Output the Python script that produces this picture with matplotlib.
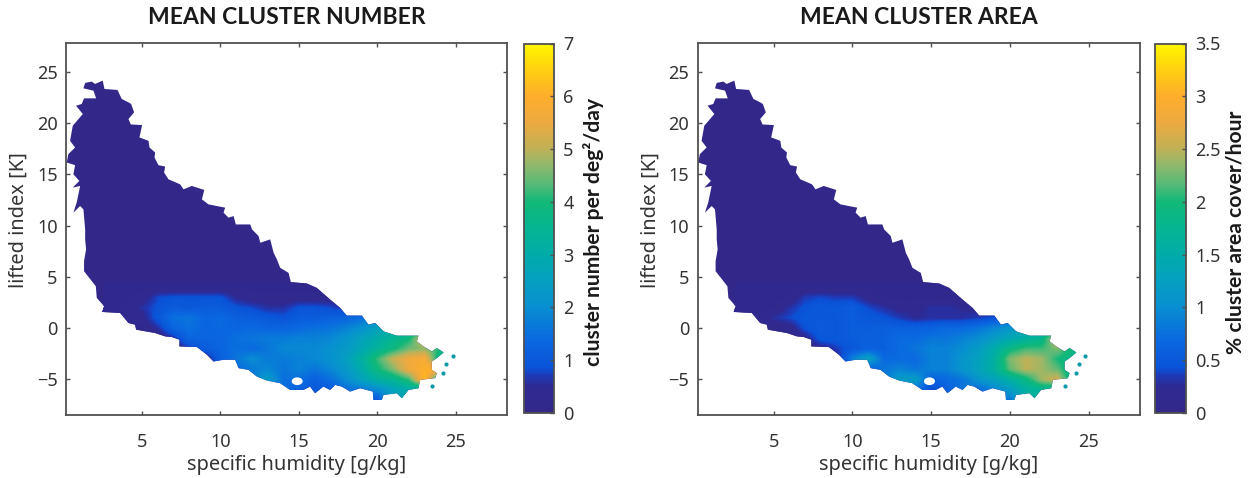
# coding = utf-8

import numpy as np
import matplotlib
matplotlib.use('Agg')
import matplotlib.pyplot as plt
from matplotlib.colors import LinearSegmentedColormap
from matplotlib.patches import Ellipse, Polygon

outline_q = [1.28, 1.39, 1.81, 2.02, 2.51, 2.62, 3.45, 3.72, 4.15, 4.32, 4.51, 4.15, 4.30, 5.02, 4.85, 5.43,
             5.49, 5.85, 5.81, 6.06, 6.49, 6.42, 6.70, 7.44, 7.66, 8.19, 8.98, 8.83, 9.25, 10.31, 10.21, 10.53,
             10.85, 10.99, 11.91, 12.02, 12.44, 12.55, 13.18, 13.40, 13.61, 13.82, 14.35, 14.50, 15.51, 16.15,
             17.0, 17.64, 18.06, 19.02, 19.44, 19.87, 20.4, 21.25, 22.63, 22.53, 22.95, 23.48, 23.8, 24.23, 23.8,
             23.48, 23.48, 23.8, 23.69, 22.74, 22.63, 21.99, 21.57, 21.25, 20.4, 20.29, 19.76, 19.72, 18.91,
             18.27, 17.74, 17.32, 17.0, 16.57, 16.04, 15.72, 15.3, 14.45, 13.81, 12.97, 12.33, 11.8, 11.17, 10.95,
             10.21, 9.57, 9.15, 8.51, 7.4, 7.4, 6.91, 6.49, 5.85, 4.64, 4.57, 4.15, 3.62, 2.45, 2.6, 2.13, 2.07,
             1.32, 1.32, 1.45, 1.39, 1.39, 1.28, 1.07, 0.64, 0.85, 1.07, 0.6, 1.02, 0.64, 0.75, 0.22, 0.32, 0.75,
             0.43, 0.6, 1.24, 0.81, 1.17, 1.32, 2.09, 1.92]
outline_li = [23.42, 23.95, 24.08, 23.85, 24.17, 23.36, 23.26, 22.38, 22.05, 21.89, 21.07, 20.42, 19.89, 19.83,
              18.62, 18.29, 17.64, 17.15, 16.66, 15.91, 15.78, 15.19, 14.53, 14.04, 13.55, 13.88, 13.49, 12.57,
              12.08, 11.76, 11.27, 10.78, 10.94, 10.12, 10.12, 9.64, 8.99, 8.33, 8.66, 7.35, 6.70, 5.88, 5.39,
              4.48, 4.35, 3.92, 2.78, 1.96, 1.21, 1.21, 0.33, 0.49, -0.33, -0.75, -0.75, -1.31, -1.80, -2.29,
              -1.96, -2.39, -2.94, -3.27, -4.09, -4.41, -4.9, -5.07, -5.88, -6.05, -6.86, -6.37, -6.54, -7.03,
              -7.03, -6.21, -5.88, -6.21, -5.72, -5.56, -6.05, -5.72, -6.37, -5.72, -6.05, -6.05, -5.39, -5.13,
              -4.74, -4.09, -3.92, -3.1, -3.1, -3.27, -2.61, -1.86, -1.8, -1.14, -0.88, -0.82, -0.49, -0.16, 0.33,
              0.49, 1.47, 1.57, 2.12, 2.94, 4.08, 5.55, 6.54, 7.68, 8.66, 9.64, 11.59, 11.92, 11.27, 12.25, 13.88,
              13.72, 14.37, 15.02, 15.91, 16.17, 16.99, 17.64, 18.29, 19.76, 20.91, 21.72, 21.89, 22.44, 22.44,
              23.19]

# little islands east of the main region, and the hole near q=15
island_q = [24.4, 24.2, 23.5, 24.8]
island_li = [-3.5, -4.4, -5.7, -2.7]
hole_q = 14.9
hole_li = -5.2

# grid of the coloured part: columns q = 3..25, rows li = 4..-7
number = [
    [.2, .2, .2, .2, .2, .2, .2, .2, .2, .2, .2, .2, .2, .2, .2, .2, .2, .2, .2, .2, .2, .2, .2],
    [.2, .2, .3, .8, .9, .9, .9, .9, .5, .3, .3, .3, .3, .3, .3, .2, .2, .2, .2, .2, .2, .2, .2],
    [.2, .3, .6, .9, 1.1, 1.0, 1.1, 1.1, .9, .8, .6, .6, .9, .9, .8, .6, .5, .5, .5, .5, .5, .5, .5],
    [.2, .2, .4, 1.0, 1.5, 1.6, 1.3, 1.4, 1.2, 1.1, 1.0, .9, 1.1, 1.1, 1.2, 1.3, 1.5, 1.6, 1.6, 1.6, 1.6, 1.6, 1.6],
    [.2, .2, .2, .6, 1.3, 1.5, 1.3, 1.4, 1.3, 1.4, 1.3, 1.3, 1.4, 1.5, 1.6, 1.8, 2.1, 2.6, 3.0, 3.2, 3.2, 3.2, 3.2],
    [.2, .2, .2, .2, .6, 1.3, 1.3, 1.3, 1.5, 1.6, 1.7, 1.7, 1.8, 1.8, 1.9, 2.2, 2.6, 3.0, 3.5, 3.9, 5.5, 4.2, 4.2],
    [.2, .2, .2, .2, .2, .7, 1.1, 1.3, 1.5, 1.4, 1.6, 1.9, 1.9, 1.9, 2.1, 2.3, 2.8, 3.4, 3.9, 4.5, 4.7, 4.0, 3.5],
    [.2, .2, .2, .2, .2, .2, .3, 1.2, 1.6, 2.0, 1.7, 1.7, 1.8, 1.9, 2.1, 2.5, 3.2, 4.2, 5.1, 5.6, 5.8, 3.4, 3.3],
    [.2, .2, .2, .2, .2, .2, .2, .8, 1.4, 1.7, 1.9, 1.6, 1.8, 1.6, 1.9, 2.3, 3.0, 3.9, 4.6, 5.6, 6.0, 6.0, 3.3],
    [.2, .2, .2, .2, .2, .2, .2, .8, 1.4, 1.7, 2.4, 1.5, 1.5, 1.2, 1.5, 2.0, 2.6, 3.2, 3.5, 4.2, 6.3, 3.0, 3.0],
    [.2, .2, .2, .2, .2, .2, .2, .8, 1.4, 1.7, 2.0, 1.5, 1.2, 1.0, 1.0, 1.5, 1.6, 2.0, 2.6, 3.0, 3.0, 3.0, 3.0],
    [.2, .2, .2, .2, .2, .2, .2, .8, 1.4, 1.7, 2.0, 1.5, 1.2, 1.0, 1.0, 1.5, 1.6, 1.0, 2.6, 3.0, 3.0, 3.0, 3.0],
]

area = [
    [.1, .1, .1, .1, .1, .1, .1, .1, .1, .1, .1, .1, .1, .1, .1, .1, .1, .1, .1, .1, .1, .1, .1],
    [.1, .1, .1, .1, .35, .4, .35, .35, .2, .1, .1, .1, .1, .1, .1, .1, .1, .1, .1, .1, .1, .1, .1],
    [.1, .1, .1, .3, .45, .5, .5, .55, .4, .3, .2, .2, .3, .3, .25, .2, .1, .1, .1, .1, .1, .1, .1],
    [.1, .1, .3, .4, .5, .5, .5, .55, .5, .45, .35, .25, .3, .3, .3, .35, .45, .55, .6, .7, .7, .7, .7],
    [.1, .1, .1, .15, .45, .55, .5, .55, .55, .6, .6, .6, .6, .7, .7, .8, .95, 1.1, 1.3, 1.4, 1.4, 1.4, 1.4],
    [.1, .1, .1, .1, .2, .5, .5, .55, .6, .6, .7, .7, .8, .8, .9, 1.0, 1.2, 1.4, 1.6, 1.8, 2.7, 1.9, 1.9],
    [.1, .1, .1, .1, .1, .2, .35, .5, .6, .6, .7, .8, .9, .9, 1.0, 1.2, 1.5, 1.9, 2.1, 2.1, 2.3, 1.9, 1.8],
    [.1, .1, .1, .1, .1, .1, .2, .9, 1.3, .7, .7, .7, .9, .9, 1.1, 1.3, 1.6, 2.3, 2.5, 2.4, 2.0, 1.8, 1.7],
    [.1, .1, .1, .1, .1, .1, .1, .4, .6, .8, .9, .8, .9, .9, 1.1, 1.3, 1.6, 2.2, 2.5, 2.4, 2.2, 1.7, 1.7],
    [.1, .1, .1, .1, .1, .1, .1, .4, .6, .8, 1.2, 1.2, .6, .7, .8, 1.1, 1.3, 1.6, 1.9, 2.4, 2.6, 1.7, 1.7],
    [.1, .1, .1, .1, .1, .1, .1, .4, .6, .8, 1.0, .8, .4, .6, .8, .7, .9, 1.2, 1.6, 1.7, 1.7, 1.7, 1.7],
    [.1, .1, .1, .1, .1, .1, .1, .4, .6, .8, 1.0, .8, .4, .6, .8, .7, .9, .8, 1.6, 1.7, 1.7, 1.7, 1.7],
]

number_ticks = [0, 1, 2, 3, 4, 5, 6, 7]
area_ticks = [0, 0.5, 1, 1.5, 2, 2.5, 3, 3.5]
area_ticklabels = ['0', '0.5', '1', '1.5', '2', '2.5', '3', '3.5']

# colorbar colours: navy up to about 0.09 of the range, then the parula-like ramp
cmap_stops = [(0, '#33288a'), (0.07, '#2f2a92'), (0.1, '#1e3ab8'), (0.12, '#0a52d8'), (0.2, '#0a6ae0'),
              (0.29, '#0890d0'), (0.36, '#05a0c0'), (0.43, '#00aca8'), (0.5, '#05b592'), (0.57, '#10b878'),
              (0.62, '#56ba78'), (0.68, '#9ab868'), (0.72, '#c4b055'), (0.79, '#eeaa40'), (0.86, '#fdae2b'),
              (0.93, '#ffd010'), (1, '#fff700')]
cmap = LinearSegmentedColormap.from_list('cloud', cmap_stops, N=256)

W, H = 1251, 478
EDGE = '#505050'
TEXT = '#333333'

fig = plt.figure(figsize=(W / 100, H / 100), dpi=100)


def px_axes(left, top, right, bottom):
    return fig.add_axes([left / W, 1 - bottom / H, (right - left) / W, (bottom - top) / H])


def draw_panel(left, right, cb_left, cb_right, values, vmax, title, ticks, ticklabels, cb_label, cb_label_x):
    ax = px_axes(left, 43.5, right, 415)
    poly = Polygon(np.column_stack([outline_q, outline_li]), closed=True, fc=cmap(0.0), ec='none', zorder=1)
    ax.add_patch(poly)
    im = ax.imshow(np.array(values), extent=[2.5, 25.5, -7.5, 4.5], origin='upper', aspect='auto',
                   cmap=cmap, vmin=0, vmax=vmax, interpolation='bilinear', zorder=2)
    im.set_clip_path(poly)
    ax.add_patch(Ellipse((hole_q, hole_li), 0.7, 0.75, fc='white', ec='none', zorder=3))
    ax.scatter(island_q, island_li, s=9, color='#0a9aa8', lw=0, zorder=3)
    ax.set_xlim(0.17, 28.27)
    ax.set_ylim(-8.5, 27.8)
    ax.set_xticks([5, 10, 15, 20, 25])
    ax.set_yticks([-5, 0, 5, 10, 15, 20, 25])
    ax.tick_params(direction='in', length=3, width=1, color=EDGE, top=True, right=True,
                   labelsize=13, labelcolor=TEXT)
    ax.tick_params(axis='x', pad=13)
    ax.tick_params(axis='y', pad=6)
    for s in ax.spines.values():
        s.set_linewidth(1.3)
        s.set_color(EDGE)
    fig.text((left + right + 20) / 2 / W, 1 - 465 / H, 'specific humidity [g/kg]', fontsize=14.4, color=TEXT,
             ha='center', va='center')
    fig.text((left - 47) / W, 1 - 220 / H, 'lifted index [K]', fontsize=14.4, color=TEXT, rotation=90,
             ha='center', va='center')
    fig.text((left + right) / 2 / W, 1 - 18 / H, title, fontsize=16.5, fontweight='bold', family='Lato',
             color='#1a1a1a', ha='center', va='center')

    cax = px_axes(cb_left, 43.5, cb_right, 413)
    cb = fig.colorbar(im, cax=cax, ticks=ticks)
    cb.ax.set_yticklabels(ticklabels)
    cb.ax.tick_params(direction='in', length=3, width=1, color=EDGE, labelsize=13, labelcolor=TEXT, pad=7)
    cb.outline.set_linewidth(1.3)
    cb.outline.set_edgecolor(EDGE)
    fig.text(cb_label_x / W, 1 - 232 / H, cb_label, rotation=90, fontsize=15.2, fontweight='bold', family='Lato',
             color='#1a1a1a', ha='center', va='center')


plt.rcParams['font.family'] = ['Noto Sans', 'DejaVu Sans']

draw_panel(66, 507, 524, 553.5, number, 7, 'MEAN CLUSTER NUMBER', number_ticks,
           [str(t) for t in number_ticks], 'cluster number per deg\u00b2/day', 593)
draw_panel(697.5, 1140, 1155, 1185.5, area, 3.5, 'MEAN CLUSTER AREA', area_ticks,
           area_ticklabels, '% cluster area cover/hour', 1236)

fig.savefig('out.png', dpi=100)
